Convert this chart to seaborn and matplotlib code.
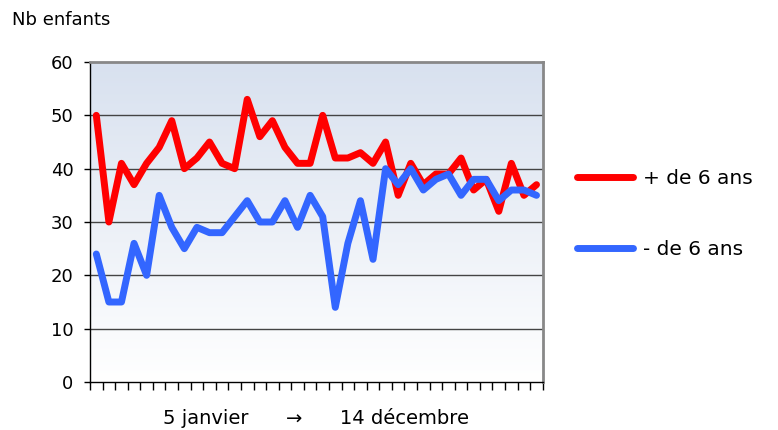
import numpy as np
import pandas as pd
import matplotlib.pyplot as plt
import seaborn as sns

sns.set_theme(style="white")
plt.rcParams["font.family"] = ["DejaVu Sans"]
plt.rcParams["text.color"] = "black"
plt.rcParams["ytick.labelcolor"] = "black"
plt.rcParams["axes.labelcolor"] = "black"

# nombre d'enfants par semaine, du 5 janvier au 14 decembre
plus_6 = [50, 30, 41, 37, 41, 44, 49, 40, 42, 45, 41, 40, 53, 46, 49, 44, 41, 41,
          50, 42, 42, 43, 41, 45, 35, 41, 37, 39, 39, 42, 36, 38, 32, 41, 35, 37]
moins_6 = [24, 15, 15, 26, 20, 35, 29, 25, 29, 28, 28, 31, 34, 30, 30, 34, 29, 35,
           31, 14, 26, 34, 23, 40, 37, 40, 36, 38, 39, 35, 38, 38, 34, 36, 36, 35]
labels = ["+ de 6 ans", "- de 6 ans"]
colors = ["#ff0000", "#3366ff"]
y_ticks = [0, 10, 20, 30, 40, 50, 60]

n = len(plus_6)
df = pd.DataFrame({
    "semaine": list(range(n)) * 2,
    "enfants": plus_6 + moins_6,
    "groupe": [labels[0]] * n + [labels[1]] * n,
})

fig = plt.figure(figsize=(7.78, 4.30), dpi=100)
ax = fig.add_axes([0.1157, 0.1116, 0.582, 0.7442])

# fond en degrade bleu -> blanc
grad = np.linspace(0, 1, 256).reshape(-1, 1)
top = np.array([216, 225, 239]) / 255
bottom = np.array([255, 255, 255]) / 255
img = top + (bottom - top) * grad[:, :, None]
ax.imshow(img, extent=[-0.5, n - 0.5, 0, 60], aspect="auto", origin="upper", zorder=0)

for y in y_ticks[1:-1]:
    ax.axhline(y, color="#444444", lw=1.0, zorder=1)

sns.lineplot(data=df, x="semaine", y="enfants", hue="groupe", hue_order=labels,
             palette=colors, lw=5, ax=ax, zorder=3)

ax.set_xlim(-0.5, n - 0.5)
ax.set_ylim(0, 60)
ax.set_yticks(y_ticks)
ax.set_xticks(np.arange(-0.5, n, 1.0))
ax.set_xticklabels([])
ax.tick_params(axis="y", left=True, length=4, width=1, color="black", labelsize=13,
               labelcolor="black", pad=8)
ax.tick_params(axis="x", bottom=True, length=6, width=1, color="black", direction="out")
ax.set_xlabel("5 janvier      \u2192      14 d\u00e9cembre", fontsize=14, labelpad=9,
              color="black")
ax.set_ylabel("")
ax.grid(False)

for side in ["left", "bottom"]:
    ax.spines[side].set_color("black")
    ax.spines[side].set_linewidth(1.0)
for side in ["top", "right"]:
    ax.spines[side].set_color("#888888")
    ax.spines[side].set_linewidth(2.0)

fig.text(12 / 778, 1 - 20 / 430, "Nb enfants", fontsize=13, va="center", ha="left",
         color="black")

leg = ax.legend(loc="center left", bbox_to_anchor=(1.035, 0.525), frameon=False,
                fontsize=14.5, handlelength=2.8, handletextpad=0.5, labelspacing=2.55)
for line in leg.get_lines():
    line.set_linewidth(5)
for t in leg.get_texts():
    t.set_color("black")
leg.set_title(None)

fig.savefig("out.png", dpi=100)
